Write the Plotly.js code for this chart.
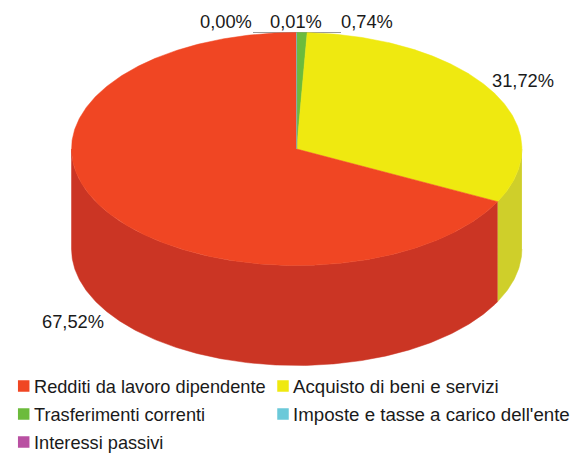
<!DOCTYPE html>
<html><head><meta charset="utf-8">
<script src="https://cdn.plot.ly/plotly-3.0.1.min.js"></script>
<style>html,body{margin:0;padding:0;background:#fff}#c{width:574px;height:453px}</style>
</head><body><div id="c"></div>
<script>
// Data (clockwise from 12 o'clock)
const categories = ["Trasferimenti correnti","Acquisto di beni e servizi","Redditi da lavoro dipendente","Imposte e tasse a carico dell'ente","Interessi passivi"];
const values = [0.74,31.72,67.52,0.01,0.00];
const valueLabels = ["0,74%","31,72%","67,52%","0,01%","0,00%"];
const topColors = ["#6CBB3C","#EFE910","#F04623","#6BC9D9","#B950A2"];
const sideColors = ["#569630","#CFCF2A","#CB3524","#5AA9B8","#96408A"];
const legendOrder = [2,1,0,3,4];

// Pie geometry, in pixel units of the axes
const cx=296.7, cy=149, rx=225.2, ry=116.5, depth=100;
const px=(t)=>cx+rx*Math.sin(t), py=(t,d)=>cy-ry*Math.cos(t)+(d||0);
const total=values.reduce((a,b)=>a+b,0);
function arc(a,b){const n=Math.max(2,Math.ceil((b-a)/0.01));const o=[];for(let i=0;i<=n;i++)o.push(a+(b-a)*i/n);return o;}

const traces=[];
let acc=0; const slices=[];
values.forEach((v,i)=>{const a=acc/total*2*Math.PI;acc+=v;slices.push([a,acc/total*2*Math.PI,i]);});
// Side walls: only the front half (90°..270°) is visible
slices.forEach(([a,b,i])=>{
  const s=Math.max(a,Math.PI/2), e=Math.min(b,1.5*Math.PI);
  if(e<=s) return;
  const ts=arc(s,e), rev=ts.slice().reverse();
  traces.push({type:'scatter',mode:'lines',fill:'toself',fillcolor:sideColors[i],line:{width:0.5,color:sideColors[i]},
    x:ts.map(px).concat(rev.map(px)),y:ts.map(t=>py(t,0)).concat(rev.map(t=>py(t,depth))),hoverinfo:'skip',showlegend:false});
});
// Top face
slices.forEach(([a,b,i])=>{
  if(b-a<=0) return;
  const ts=arc(a,b);
  traces.push({type:'scatter',mode:'lines',fill:'toself',fillcolor:topColors[i],line:{width:0.5,color:topColors[i]},
    x:[cx].concat(ts.map(px),[cx]),y:[cy].concat(ts.map(t=>py(t)),[cy]),name:categories[i],hoverinfo:'name',showlegend:false});
});
// Legend
const legX=[23.7,283], legY=[386,414,442];
const legSizes=[18.2,18.7];
const legPos=[[0,0],[1,0],[0,1],[1,1],[0,2]];
traces.push({type:'scatter',mode:'markers',x:legPos.map(p=>legX[p[0]]),y:legPos.map(p=>legY[p[1]]),
  marker:{symbol:'square',size:11.5,color:legendOrder.map(i=>topColors[i]),line:{width:0}},hoverinfo:'skip',showlegend:false});

const fam='"Liberation Sans",Arial,sans-serif', ink='#1a1a1a';
const font={family:fam,size:18.3,color:ink};
const lab=(i,x,y)=>({xref:'x',yref:'y',x,y,text:valueLabels[i],showarrow:false,font,xanchor:'center',yanchor:'middle'});
const annotations=[lab(4,226,21),lab(3,296,21),lab(0,367,21),lab(1,523,80),lab(2,73,321)];
legPos.forEach((p,k)=>annotations.push({xref:'x',yref:'y',x:legX[p[0]]+8.3,y:legY[p[1]]+0.5,text:categories[legendOrder[k]],
  showarrow:false,font:{family:fam,size:legSizes[p[0]],color:ink},xanchor:'left',yanchor:'middle'}));

const shapes=[{type:'line',xref:'x',yref:'y',x0:253,x1:341,y0:32.5,y1:32.5,line:{color:'#9a9a9a',width:1},layer:'below'}];

Plotly.newPlot('c',traces,{width:574,height:453,margin:{l:0,r:0,t:0,b:0},paper_bgcolor:'#fff',plot_bgcolor:'#fff',
  xaxis:{range:[0,574],visible:false,fixedrange:true},yaxis:{range:[453,0],visible:false,fixedrange:true},
  showlegend:false,annotations,shapes},{displayModeBar:false,staticPlot:true});
</script></body></html>
